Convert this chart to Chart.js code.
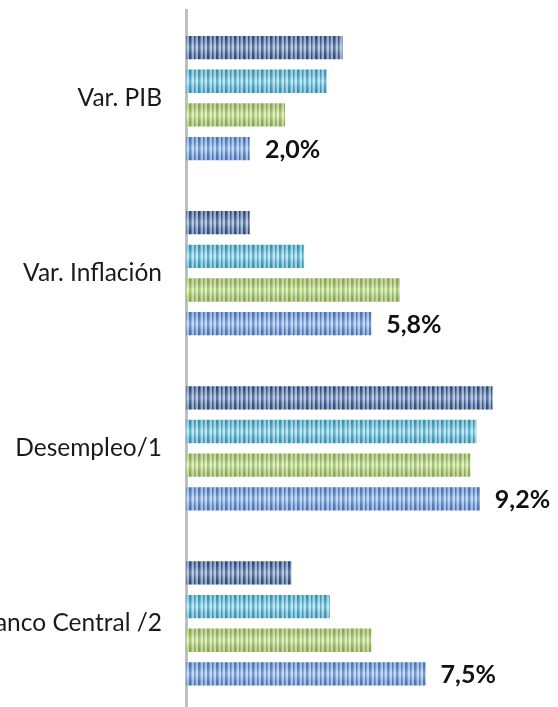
<!DOCTYPE html>
<html>
<head>
<meta charset="utf-8">
<script src="https://cdn.jsdelivr.net/npm/chart.js@4/dist/chart.umd.min.js"></script>
<style>
html, body { margin: 0; padding: 0; background: #ffffff; overflow: hidden; }
#wrap { position: relative; width: 558px; height: 711px; }
</style>
</head>
<body>
<div id="wrap"><canvas id="c"></canvas></div>
<script>
const categories = ["Var. PIB", "Var. Inflación", "Desempleo/1", "Tasa Banco Central /2"];
const serie1 = [4.9, 2.0, 9.6, 3.3];
const serie2 = [4.4, 3.7, 9.1, 4.5];
const serie3 = [3.1, 6.7, 8.9, 5.8];
const serie4 = [2.0, 5.8, 9.2, 7.5];
const seriesNames = ["Serie 1", "Serie 2", "Serie 3", "Serie 4"];

const canvas = document.getElementById('c');
const ctx = canvas.getContext('2d');

function stripes(dark, mid, light) {
  const c = document.createElement('canvas');
  c.width = 9; c.height = 1;
  const g = c.getContext('2d');
  const cols = [dark, dark, mid, light, light, dark, mid, light, light];
  cols.forEach((col, i) => { g.fillStyle = col; g.fillRect(i, 0, 1, 1); });
  return ctx.createPattern(c, 'repeat');
}

const fills = [
  stripes('#2c4c7e', '#5f7fae', '#a3b8dc'),
  stripes('#2f9fc3', '#68bfd9', '#b0dfed'),
  stripes('#8fb947', '#b0cf77', '#d8e8b6'),
  stripes('#437dc7', '#779fd8', '#b6cdef')
];

const glossPlugin = {
  id: 'gloss',
  afterDatasetsDraw(chart) {
    const c = chart.ctx;
    chart.data.datasets.forEach((ds, di) => {
      const meta = chart.getDatasetMeta(di);
      meta.data.forEach(el => {
        const p = el.getProps(['x', 'y', 'base', 'height'], true);
        const top = p.y - p.height / 2;
        const g = c.createLinearGradient(0, top, 0, top + p.height);
        g.addColorStop(0, 'rgba(40,40,60,0.10)');
        g.addColorStop(0.45, 'rgba(255,255,255,0.25)');
        g.addColorStop(0.55, 'rgba(255,255,255,0.25)');
        g.addColorStop(1, 'rgba(40,40,60,0.10)');
        c.save();
        c.fillStyle = g;
        c.fillRect(p.base, top, p.x - p.base, p.height);
        c.restore();
      });
    });
  }
};

const labelPlugin = {
  id: 'valueLabels',
  afterDatasetsDraw(chart) {
    const di = chart.data.datasets.length - 1;
    const meta = chart.getDatasetMeta(di);
    const c = chart.ctx;
    c.save();
    c.font = 'bold 25px Lato';
    c.fillStyle = '#111111';
    c.textAlign = 'left';
    c.textBaseline = 'middle';
    meta.data.forEach((el, i) => {
      const p = el.getProps(['x', 'y'], true);
      const v = chart.data.datasets[di].data[i];
      c.fillText(v.toFixed(1).replace('.', ',') + '%', p.x + 15, p.y + 1);
    });
    c.restore();
  }
};

const data = {
  labels: categories,
  datasets: [serie1, serie2, serie3, serie4].map((arr, i) => ({
    label: seriesNames[i],
    data: arr,
    backgroundColor: fills[i],
    borderWidth: 0,
    categoryPercentage: 0.769,
    barPercentage: 0.692
  }))
};

new Chart(canvas, {
  type: 'bar',
  data: data,
  options: {
    indexAxis: 'y',
    responsive: true,
    maintainAspectRatio: false,
    animation: false,
    devicePixelRatio: 1,
    layout: { padding: { top: 10.5, right: 52.6, bottom: 0, left: 0 } },
    plugins: { legend: { display: false }, tooltip: { enabled: false } },
    scales: {
      x: { display: false, min: 0, max: 10 },
      y: {
        afterFit(scale) { scale.width = 186; scale.paddingTop = 0; scale.paddingBottom = 0; },
        grid: { display: false, drawTicks: false },
        border: { display: true, color: '#bfbfbf', width: 3 },
        ticks: { color: '#1a1a1a', font: { family: 'Lato', size: 24.5 }, padding: 24 }
      }
    }
  },
  plugins: [glossPlugin, labelPlugin]
});
</script>
</body>
</html>
